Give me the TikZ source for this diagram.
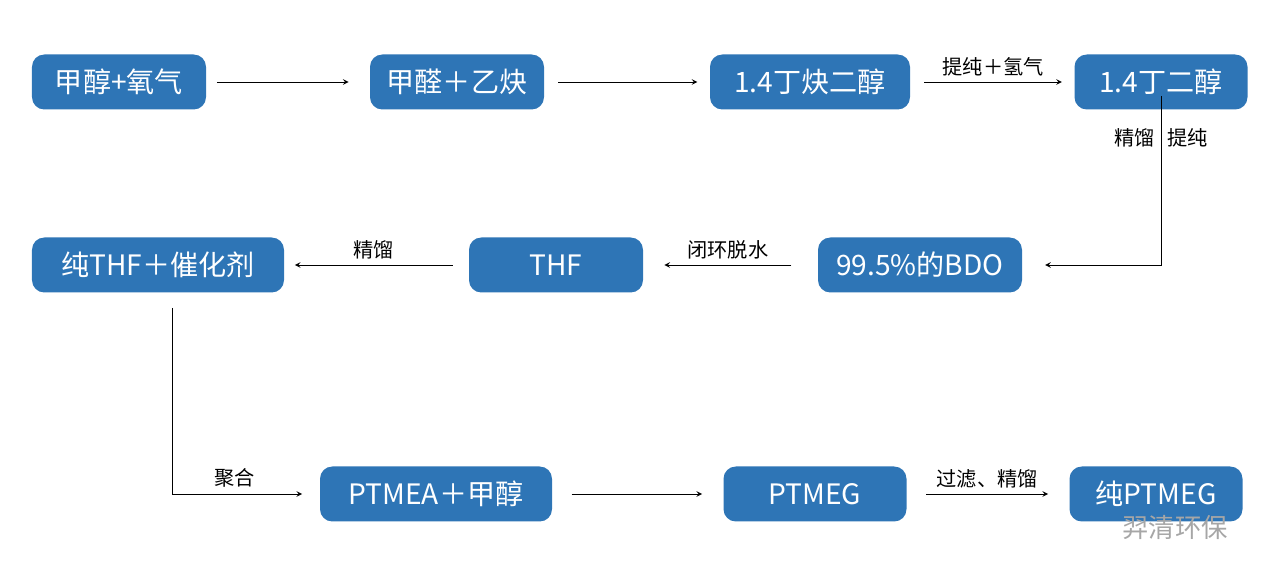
\documentclass[tikz,border=0pt]{standalone}
\usepackage{fontspec}
\setmainfont{Noto Sans CJK SC}
\definecolor{boxblue}{HTML}{2E75B6}
\begin{document}
\begin{tikzpicture}[x=0.2mm,y=-0.2mm,
  box/.style={fill=boxblue,rounded corners=7pt,text=white,font=\fontsize{16}{18}\selectfont,minimum height=1.1cm,inner sep=0pt},
  flow/.style={->,>=stealth,thin},
  lab/.style={font=\fontsize{11.5}{13}\selectfont}]
    \useasboundingbox (0,0) rectangle (1280,583);

    % Row 1
    \node[box,minimum width=3.48cm] (meoh) at (119,82) {甲醇+氧气};
    \node[box,minimum width=3.48cm] (hcho) at (457,82) {甲醛＋乙炔};
    \node[box,minimum width=4.0cm] (byd) at (810,82) {1.4丁炔二醇};
    \node[box,minimum width=3.46cm] (bdo) at (1161,82) {1.4丁二醇};

    % Row 2
    \node[box,minimum width=5.04cm] (thfcat) at (158,265) {纯THF＋催化剂};
    \node[box,minimum width=3.48cm] (thf) at (556,265) {THF};
    \node[box,minimum width=4.08cm] (bdop) at (920,265) {99.5\%的BDO};

    % Row 3
    \node[box,minimum width=4.64cm] (ptmea) at (436,494) {PTMEA＋甲醇};
    \node[box,minimum width=3.66cm] (ptmeg) at (815,494) {PTMEG};
    \node[box,minimum width=3.46cm] (pure) at (1156,494) {纯PTMEG};

    % Arrows
    \draw[flow] ([xshift=6]meoh.east) -- ([xshift=-12]hcho.west);
    \draw[flow] ([xshift=8]hcho.east) -- ([xshift=-7]byd.west);
    \draw[flow] ([xshift=8]byd.east) -- node[lab,above] {提纯＋氢气} ([xshift=-7]bdo.west);
    \draw[flow] ([yshift=8]bdo.south) -- (1161,265) node[lab,pos=0.25,left] {精馏} node[lab,pos=0.25,right] {提纯} -- ([xshift=13]bdop.east);
    \draw[flow] ([xshift=-15]bdop.west) -- node[lab,above] {闭环脱水} ([xshift=12]thf.east);
    \draw[flow] ([xshift=-9]thf.west) -- node[lab,above] {精馏} ([xshift=6]thfcat.east);
    \draw[flow] (172,308) -- (172,494) -- node[lab,above,pos=0.48] {聚合} ([xshift=-10]ptmea.west);
    \draw[flow] ([xshift=11]ptmea.east) -- ([xshift=-12]ptmeg.west);
    \draw[flow] ([xshift=11]ptmeg.east) -- node[lab,above] {过滤、精馏} ([xshift=-12]pure.west);

    % Watermark
    \node[text=gray!70,font=\fontsize{15}{17}\selectfont] (mark) at (1175,527) {羿清环保};
\end{tikzpicture}
\end{document}
